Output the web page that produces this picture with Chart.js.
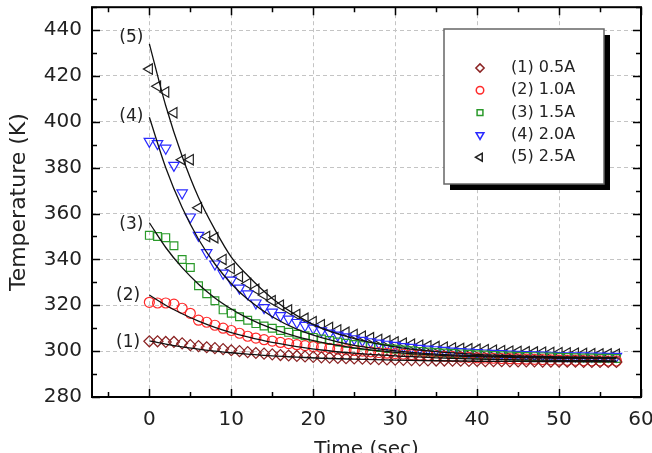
<!DOCTYPE html>
<html>
<head>
<meta charset="utf-8">
<script src="https://cdn.jsdelivr.net/npm/chart.js@4.4.0/dist/chart.umd.min.js"></script>
<style>
  html, body { margin: 0; padding: 0; background: #fff; overflow: hidden; }
</style>
</head>
<body>
<canvas id="tempChart" width="652" height="453"></canvas>
<script>
// measured cooling data, one point per second
const timeSec = [0,1,2,3,4,5,6,7,8,9,10,11,12,13,14,15,16,17,18,19,20,21,22,23,24,25,26,27,28,29,
  30,31,32,33,34,35,36,37,38,39,40,41,42,43,44,45,46,47,48,49,50,51,52,53,54,55,56,57];

const temp05A = [304.3,304.3,304.0,304.0,303.4,302.6,302.2,301.7,301.3,300.9,
  300.4,300.0,299.6,299.2,298.9,298.6,298.3,298.1,297.9,297.7,
  297.5,297.3,297.2,297.0,296.9,296.8,296.7,296.6,296.5,296.4,
  296.3,296.2,296.1,296.0,296.0,295.9,295.9,295.8,295.8,295.7,
  295.7,295.6,295.6,295.6,295.5,295.5,295.5,295.5,295.4,295.4,
  295.4,295.4,295.4,295.3,295.3,295.3,295.3,295.3];
const temp10A = [321.3,321.0,321.0,320.5,318.7,316.5,313.5,312.6,311.3,310.0,
  309.0,307.8,306.5,305.7,305.0,304.4,303.8,303.3,302.8,302.4,
  302.0,301.6,301.2,300.9,300.6,300.3,300.0,299.7,299.4,299.1,
  298.9,298.7,298.5,298.3,298.1,297.9,297.7,297.6,297.4,297.3,
  297.1,297.0,296.9,296.8,296.7,296.6,296.5,296.4,296.3,296.2,
  296.1,296.0,296.0,295.9,295.8,295.8,295.7,295.7];
const temp15A = [350.5,350.0,349.5,346.0,340.0,336.5,328.5,325.0,322.0,318.0,
  316.5,315.0,313.5,312.0,311.0,310.0,309.0,308.2,307.4,306.7,
  306.0,305.3,304.6,304.0,303.4,302.9,302.4,302.0,301.6,301.2,
  300.8,300.5,300.2,299.9,299.6,299.4,299.2,299.0,298.8,298.6,
  298.4,298.3,298.1,298.0,297.9,297.8,297.7,297.6,297.5,297.4,
  297.3,297.2,297.1,297.0,297.0,296.9,296.9,296.8];
const temp20A = [391.5,390.5,388.5,381.0,369.0,358.5,350.5,343.0,338.0,334.0,
  331.0,327.5,325.0,321.0,319.0,317.0,315.5,314.0,312.5,311.2,
  310.0,308.9,307.9,307.0,306.2,305.4,304.7,304.1,303.5,303.0,
  302.5,302.0,301.6,301.2,300.9,300.6,300.3,300.0,299.8,299.6,
  299.4,299.2,299.0,298.9,298.7,298.6,298.5,298.4,298.3,298.2,
  298.1,298.0,297.9,297.9,297.8,297.8,297.7,297.7];
const temp25A = [423.0,415.5,413.0,404.0,383.5,383.5,362.5,350.0,349.5,340.0,
  336.0,332.5,329.5,327.0,324.5,322.0,320.0,318.0,316.0,314.3,
  312.8,311.5,310.3,309.2,308.2,307.3,306.5,305.8,305.1,304.5,
  304.0,303.5,303.0,302.6,302.3,302.0,301.7,301.4,301.2,301.0,
  300.8,300.6,300.4,300.2,300.0,299.9,299.7,299.6,299.5,299.4,
  299.3,299.2,299.1,299.0,298.9,298.8,298.8,298.7];

// fitted curves (solid black lines)
const fitTime = [0,2,4,6,8,10,12,15,18,21,25,30,35,40,45,50,57];
const fit05A = [304.5,303.1,301.9,300.9,300.0,299.3,298.7,297.9,297.4,296.9,296.5,296.1,295.8,295.6,295.5,295.4,295.4];
const fit10A = [324.5,320.0,316.3,313.1,310.4,308.1,306.2,303.8,302.0,300.5,299.1,297.9,297.1,296.5,296.2,295.95,295.75];
const fit15A = [356.0,345.2,336.4,329.2,323.2,318.4,314.4,309.8,306.3,303.8,301.4,299.5,298.3,297.6,297.2,296.9,296.7];
const fit20A = [402.0,380.0,362.6,348.8,338.0,329.4,322.6,315.0,309.6,305.9,302.5,300.1,298.7,298.0,297.5,297.3,297.1];
const fit25A = [434.0,407.0,385.0,367.0,353.0,341.0,333.0,323.0,315.5,310.0,305.5,301.9,299.8,298.6,297.9,297.5,297.2];

const seriesNames = ['(1) 0.5A', '(2) 1.0A', '(3) 1.5A', '(4) 2.0A', '(5) 2.5A'];
const curveTags = ['(1)', '(2)', '(3)', '(4)', '(5)'];
const tagX = [-2.6, -2.6, -2.2, -2.2, -2.2];
const tagY = [303.7, 324.3, 355.4, 402.2, 436.7];

const xTicks = [0, 10, 20, 30, 40, 50, 60];
const xMinor = [-5, 5, 15, 25, 35, 45, 55];
const yTicks = [280, 300, 320, 340, 360, 380, 400, 420, 440];
const yMinor = [290, 310, 330, 350, 370, 390, 410, 430, 450];

const FONT = 'DejaVu Sans';

const markerStyles = [
  { color: '#8b2323', pointStyle: 'rectRot', radius: 5.5, rotation: 0 },
  { color: '#ff2a2a', pointStyle: 'circle', radius: 5, rotation: 0 },
  { color: '#2a9a2a', pointStyle: 'rect', radius: 5.5, rotation: 0 },
  { color: '#2a2aff', pointStyle: 'triangle', radius: 6, rotation: 180 },
  { color: '#222222', pointStyle: 'triangle', radius: 6, rotation: -90 },
];

const measured = [temp05A, temp10A, temp15A, temp20A, temp25A];
const fits = [fit05A, fit10A, fit15A, fit20A, fit25A];

const datasets = [];
measured.forEach((vals, i) => {
  const m = markerStyles[i];
  datasets.push({
    label: seriesNames[i],
    data: timeSec.map((t, k) => ({ x: t, y: vals[k] })),
    showLine: false,
    pointStyle: m.pointStyle,
    pointRotation: m.rotation,
    pointRadius: m.radius,
    pointBorderColor: m.color,
    pointBackgroundColor: 'rgba(0,0,0,0)',
    pointBorderWidth: 1.2,
    order: 2,
  });
});
fits.forEach((vals) => {
  datasets.push({
    label: 'fit',
    data: fitTime.map((t, k) => ({ x: t, y: vals[k] })),
    showLine: true,
    borderColor: '#111',
    borderWidth: 1.3,
    pointRadius: 0,
    cubicInterpolationMode: 'monotone',
    order: 1,
  });
});

// frame with inward ticks, curve tags and boxed legend with shadow
const framePlugin = {
  id: 'frame',
  afterDatasetsDraw(chart) {
    const { ctx, chartArea: a, scales: { x, y } } = chart;
    ctx.save();

    ctx.strokeStyle = '#000';
    ctx.lineWidth = 1.5;
    ctx.beginPath();
    const xt = (vals, len) => vals.forEach(v => {
      const p = Math.round(x.getPixelForValue(v)) + 0.5;
      ctx.moveTo(p, a.bottom); ctx.lineTo(p, a.bottom - len);
      ctx.moveTo(p, a.top); ctx.lineTo(p, a.top + len);
    });
    const yt = (vals, len) => vals.forEach(v => {
      const p = Math.round(y.getPixelForValue(v)) + 0.5;
      ctx.moveTo(a.left, p); ctx.lineTo(a.left + len, p);
      ctx.moveTo(a.right, p); ctx.lineTo(a.right - len, p);
    });
    xt(xTicks, 8); xt(xMinor, 5);
    yt(yTicks, 8); yt(yMinor, 5);
    ctx.stroke();

    ctx.lineWidth = 2;
    ctx.strokeRect(a.left, a.top, a.right - a.left, a.bottom - a.top);

    ctx.fillStyle = '#222';
    ctx.font = '17px "' + FONT + '"';
    ctx.textAlign = 'center';
    ctx.textBaseline = 'middle';
    curveTags.forEach((tag, i) => {
      ctx.fillText(tag, x.getPixelForValue(tagX[i]), y.getPixelForValue(tagY[i]));
    });

    // legend box
    const bx = 444, by = 29, bw = 160, bh = 155;
    ctx.fillStyle = '#000';
    ctx.fillRect(bx + 6, by + 6, bw, bh);
    ctx.fillStyle = '#fff';
    ctx.fillRect(bx, by, bw, bh);
    ctx.strokeStyle = '#666';
    ctx.lineWidth = 1.5;
    ctx.strokeRect(bx, by, bw, bh);

    ctx.textAlign = 'left';
    ctx.font = '16px "' + FONT + '"';
    seriesNames.forEach((name, i) => {
      const m = markerStyles[i];
      const ry = by + 39 + i * 22.3;
      ctx.strokeStyle = m.color;
      ctx.fillStyle = 'rgba(0,0,0,0)';
      Chart.helpers.drawPoint(ctx, {
        pointStyle: m.pointStyle, rotation: m.rotation,
        radius: m.radius * 0.75, borderWidth: 1.2,
      }, bx + 36, ry);
      ctx.fillStyle = '#222';
      ctx.fillText(name, bx + 67, ry);
    });
    ctx.restore();
  },
};

new Chart(document.getElementById('tempChart'), {
  type: 'scatter',
  data: { datasets },
  options: {
    responsive: false,
    animation: false,
    layout: { padding: { top: 6, right: 11, left: 0, bottom: 0 } },
    plugins: { legend: { display: false }, tooltip: { enabled: false } },
    scales: {
      x: {
        type: 'linear',
        min: -7,
        max: 60,
        afterBuildTicks: (s) => { s.ticks = xTicks.map(v => ({ value: v })); },
        afterFit: (s) => { s.height = 56; s.paddingLeft = 0; s.paddingRight = 0; },
        grid: { color: '#c4c4c4', lineWidth: 1, drawTicks: false },
        border: { display: false, dash: [4, 3] },
        ticks: { color: '#222', padding: 11, font: { family: FONT, size: 20 } },
        title: {
          display: true, text: 'Time (sec)', color: '#222',
          font: { family: FONT, size: 20 }, padding: { top: 0, bottom: -9 },
        },
      },
      y: {
        type: 'linear',
        min: 280,
        max: 450,
        afterBuildTicks: (s) => { s.ticks = yTicks.map(v => ({ value: v })); },
        afterFit: (s) => { s.width = 92; s.paddingTop = 0; s.paddingBottom = 0; },
        grid: { color: '#c4c4c4', lineWidth: 1, drawTicks: false },
        border: { display: false, dash: [4, 3] },
        ticks: { color: '#222', padding: 10, font: { family: FONT, size: 20 } },
        title: {
          display: true, text: 'Temperature (K)', color: '#222',
          font: { family: FONT, size: 22 }, padding: { top: 6, bottom: 0 },
        },
      },
    },
  },
  plugins: [framePlugin],
});
</script>
</body>
</html>
